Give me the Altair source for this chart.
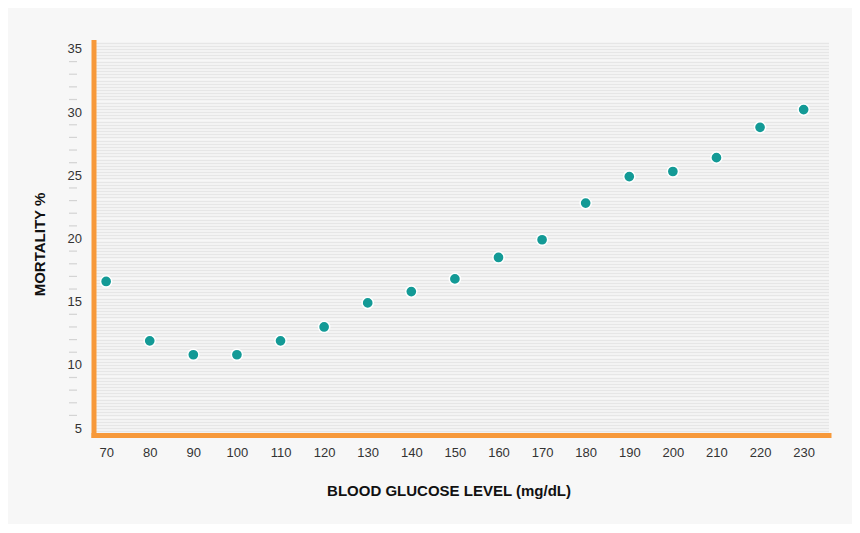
import altair as alt
import pandas as pd

# blood glucose (mg/dL) vs mortality (%)
glucose = [70, 80, 90, 100, 110, 120, 130, 140, 150, 160, 170, 180, 190, 200, 210, 220, 230]
mortality = [16.6, 11.9, 10.8, 10.8, 11.9, 13.0, 14.9, 15.8, 16.8, 18.5, 19.9, 22.8, 24.9, 25.3, 26.4, 28.8, 30.2]

x_labels = [70, 80, 90, 100, 110, 120, 130, 140, 150, 160, 170, 180, 190, 200, 210, 220, 230]
y_labels = [5, 10, 15, 20, 25, 30, 35]
y_minor = [6, 7, 8, 9, 11, 12, 13, 14, 16, 17, 18, 19, 21, 22, 23, 24, 26, 27, 28, 29, 31, 32, 33, 34]

# thin striped background lines (every quarter unit)
stripes = [4.5 + 0.25 * i for i in range(125)]

df = pd.DataFrame({"glucose": glucose, "mortality": mortality})
minor = pd.DataFrame({"v": y_minor})

ORANGE = "#f7993a"
FONT = "Liberation Sans"

xscale = alt.Scale(domain=[67.1, 235.7], nice=False, zero=False)
yscale = alt.Scale(domain=[4.45, 35.55], nice=False, zero=False)

points = alt.Chart(df).mark_point(
    filled=True, size=125, color="#139a96", stroke="white", strokeWidth=1.5, opacity=1
).encode(
    alt.X("glucose:Q").scale(xscale).axis(
        values=x_labels, grid=False, ticks=False,
        domainColor=ORANGE, domainWidth=5, domainCap="square",
        labelFont=FONT, labelFontSize=13, labelColor="#333333", labelPadding=11,
        labelOverlap=False,
        title="BLOOD GLUCOSE LEVEL (mg/dL)", titleFont=FONT, titleFontSize=15,
        titleFontWeight="bold", titleColor="#111111",
        titleX=355, titleY=55, titleBaseline="middle",
    ),
    alt.Y("mortality:Q").scale(yscale).axis(
        values=stripes, grid=True, gridColor="#e6e6e6", gridWidth=1.4,
        ticks=False, format=".0f",
        labelExpr="datum.value % 5 === 0 ? datum.label : ''",
        domainColor=ORANGE, domainWidth=5, domainCap="square",
        labelFont=FONT, labelFontSize=13, labelColor="#333333", labelPadding=12,
        labelBound=False, labelOverlap=False,
        title="MORTALITY %", titleFont=FONT, titleFontSize=15,
        titleFontWeight="bold", titleColor="#111111",
        titleX=-54, titleY=202, titleBaseline="middle",
    ),
)

dashes = alt.Chart(minor).mark_tick(
    orient="horizontal", size=8, thickness=1.2, color="#c4c4c4"
).encode(
    y=alt.Y("v:Q").scale(yscale).axis(None),
    x=alt.value(-20.5),
)

chart = alt.layer(points, dashes).resolve_axis(y="independent").properties(
    width=735,
    height=393,
    background="#f7f7f7",
    padding={"left": 85.5, "top": 34, "right": 23, "bottom": 89},
    autosize=alt.AutoSizeParams(type="none"),
).configure_view(stroke=None)

chart.save("out.html", embed_options={"renderer": "svg", "actions": False})
